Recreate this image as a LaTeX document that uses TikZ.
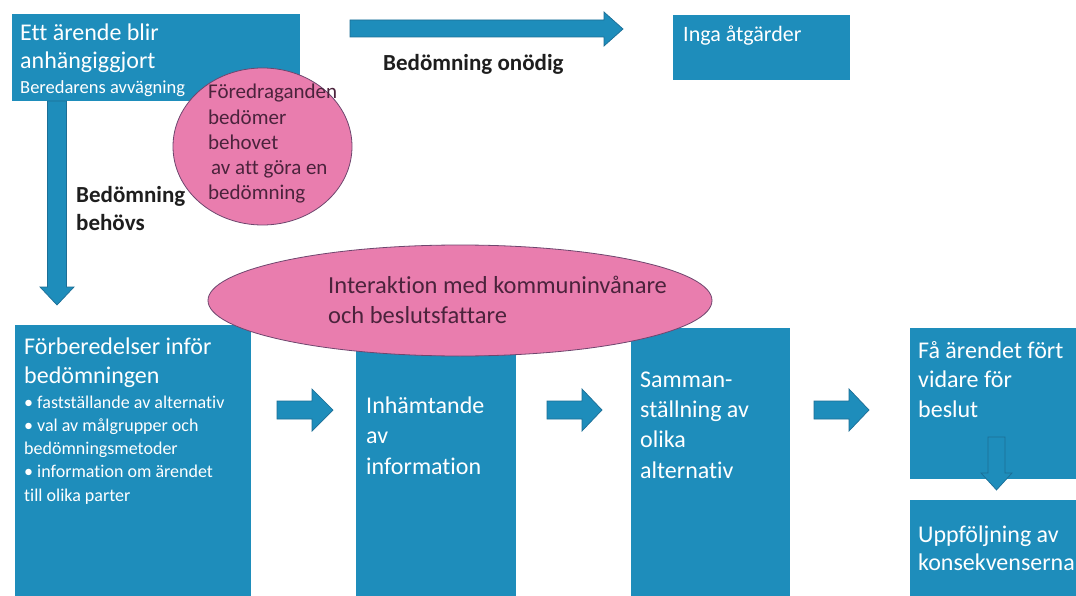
\documentclass[tikz,border=0pt]{standalone}
\usepackage{fontspec}
\setmainfont[Ligatures=CommonOff]{Carlito}
\usetikzlibrary{shapes.geometric}
\definecolor{boxblue}{RGB}{30,141,187}
\definecolor{arrowedge}{RGB}{28,110,150}
\definecolor{pinkfill}{RGB}{233,125,174}
\definecolor{pinkedge}{RGB}{110,70,110}
\definecolor{pinktext}{RGB}{75,35,60}
\definecolor{darktext}{RGB}{30,30,30}
\begin{document}
\begin{tikzpicture}[x=1pt,y=-1pt,
  box/.style={fill=boxblue,draw=none,anchor=north west,inner sep=0pt,outer sep=0pt},
  wtxt/.style={text=white,anchor=base west,align=left,inner sep=0pt},
  ptxt/.style={text=pinktext,anchor=base west,align=left,inner sep=0pt},
  btxt/.style={text=darktext,anchor=base west,align=left,inner sep=0pt,font=\bfseries\fontsize{23}{28}\selectfont},
  blk/.style={fill=boxblue,draw=arrowedge,line width=0.7pt,line join=miter},
  oval/.style={ellipse,fill=pinkfill,draw=pinkedge,line width=0.8pt,inner sep=0pt}
]
\useasboundingbox (0,0) rectangle (1076,596);
\fill[white] (0,0) rectangle (1076,596);

% boxes
\node[box,minimum width=288pt,minimum height=87pt] (start) at (12,14) {};
\node[box,minimum width=177pt,minimum height=65pt] (inga) at (673,15) {};
\node[box,minimum width=236pt,minimum height=275pt] (forb) at (15,325) {};
\node[box,minimum width=160pt,minimum height=270pt] (inh) at (356,330) {};
\node[box,minimum width=159pt,minimum height=272pt] (samman) at (631,328) {};
\node[box,minimum width=170pt,minimum height=151pt] (fa) at (910,328) {};
\node[box,minimum width=170pt,minimum height=100pt] (upp) at (910,500) {};

% ellipses
\node[oval,minimum width=179pt,minimum height=157pt] (e1) at (262.5,146.5) {};
\node[oval,minimum width=504pt,minimum height=111pt] (e2) at (460,300.5) {};

% block arrows
\draw[blk] (350,20) -- (604,20) -- (604,12) -- (623,29) -- (604,46) -- (604,37) -- (350,37) -- cycle;
\draw[blk] (47.5,101) -- (66.5,101) -- (66.5,287) -- (74,287) -- (57,305) -- (40,287) -- (47.5,287) -- cycle;
\draw[blk] (277,401) -- (312,401) -- (312,389) -- (333,410) -- (312,431) -- (312,419) -- (277,419) -- cycle;
\draw[blk] (547,401) -- (582,401) -- (582,389) -- (602,410) -- (582,431) -- (582,419) -- (547,419) -- cycle;
\draw[blk] (814,401) -- (849,401) -- (849,389) -- (869,410) -- (849,431) -- (849,419) -- (814,419) -- cycle;
\draw[blk] (988,437) -- (1005,437) -- (1005,473) -- (1012,473) -- (996.5,490) -- (981,473) -- (988,473) -- cycle;

% texts (base anchor = baseline of the last line)
\node[wtxt,font=\fontsize{24}{28}\selectfont] (t1) at (20,69) {Ett ärende blir\\anhängiggjort};
\node[wtxt,font=\fontsize{18.5}{22}\selectfont] (t1b) at (20,94) {Beredarens avvägning};
\node[wtxt,font=\fontsize{22}{26}\selectfont] (t2) at (683,42) {Inga åtgärder};
\node[btxt] (t3) at (383,71) {Bedömning onödig};
\node[btxt] (t4) at (76,230) {Bedömning\\behövs};
\node[ptxt,font=\fontsize{21}{25.3}\selectfont] (t5) at (208,200) {Föredraganden\\bedömer\\behovet\\\hspace{3pt}av att göra en\\bedömning};
\node[ptxt,font=\fontsize{24.5}{30}\selectfont] (t6) at (328,323) {Interaktion med kommuninvånare\\och beslutsfattare};
\node[wtxt,font=\fontsize{24}{29}\selectfont] (t7) at (24,383) {Förberedelser inför\\bedömningen};
\node[wtxt,font=\fontsize{18}{23.2}\selectfont] (t7b) at (24,501) {• fastställande av alternativ\\• val av målgrupper och\\bedömningsmetoder\\• information om ärendet\\till olika parter};
\node[wtxt,font=\fontsize{24}{30.5}\selectfont] (t8) at (366,474) {Inhämtande\\av\\information};
\node[wtxt,font=\fontsize{24}{30.3}\selectfont] (t9) at (640,478) {Samman-\\ställning av\\olika\\alternativ};
\node[wtxt,font=\fontsize{24}{29.5}\selectfont] (t10) at (918,417) {Få ärendet fört\\vidare för\\beslut};
\node[wtxt,font=\fontsize{24}{28}\selectfont] (t11) at (918,570) {Uppföljning av\\konsekvenserna};
\end{tikzpicture}
\end{document}
